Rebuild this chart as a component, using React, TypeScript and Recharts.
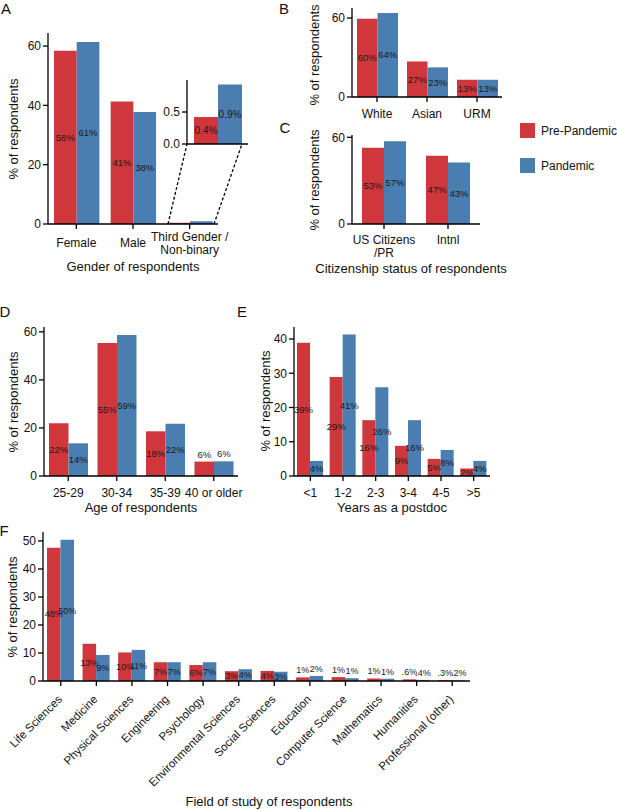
import React from "react"
import { BarChart, Bar, XAxis, YAxis, LabelList } from "recharts"

const RED = "#d0373d"
const BLUE = "#4a7db0"
const INK = "#111"
const FONT = '"Liberation Sans", Arial, Helvetica, sans-serif'

const seriesNames = ["Pre-Pandemic", "Pandemic"]

// A - gender
const genderCats = ["Female", "Male", "Third Gender /\nNon-binary"]
const genderPre = [58.4, 41.3, 0.42]
const genderPan = [61.4, 37.8, 0.93]
const genderPreText = ["58%", "41%", "0.4%"]
const genderPanText = ["61%", "38%", "0.9%"]

// B - race / ethnicity
const raceCats = ["White", "Asian", "URM"]
const racePre = [59.4, 27.0, 13.1]
const racePan = [63.8, 22.5, 13.1]
const racePreText = ["60%", "27%", "13%"]
const racePanText = ["64%", "23%", "13%"]

// C - citizenship
const citCats = ["US Citizens\n/PR", "Intnl"]
const citPre = [52.8, 47.3]
const citPan = [57.3, 42.5]
const citPreText = ["53%", "47%"]
const citPanText = ["57%", "43%"]

// D - age
const ageCats = ["25-29", "30-34", "35-39", "40 or older"]
const agePre = [22.0, 55.3, 18.6, 6.0]
const agePan = [13.6, 58.7, 21.7, 6.1]
const agePreText = ["22%", "55%", "18%", "6%"]
const agePanText = ["14%", "59%", "22%", "6%"]

// E - years as postdoc
const yearCats = ["<1", "1-2", "2-3", "3-4", "4-5", ">5"]
const yearPre = [38.9, 28.9, 16.3, 8.8, 5.0, 2.2]
const yearPan = [4.4, 41.3, 25.9, 16.3, 7.6, 4.4]
const yearPreText = ["39%", "29%", "16%", "9%", "5%", "2%"]
const yearPanText = ["4%", "41%", "26%", "16%", "8%", "4%"]

// F - field of study
const fieldCats = [
  "Life Sciences",
  "Medicine",
  "Physical Sciences",
  "Engineering",
  "Psychology",
  "Environmental Sciences",
  "Social Sciences",
  "Education",
  "Computer Science",
  "Mathematics",
  "Humanities",
  "Professional (other)",
]
const fieldPre = [47.6, 13.3, 10.2, 6.7, 5.7, 3.5, 3.6, 1.3, 1.4, 0.9, 0.6, 0.3]
const fieldPan = [50.4, 9.3, 11.1, 6.7, 6.7, 4.2, 3.3, 1.8, 1.0, 0.8, 0.4, 0.2]
const fieldPreText = ["48%", "13%", "10%", "7%", "6%", "3%", "4%", "1%", "1%", "1%", ".6%", ".3%"]
const fieldPanText = ["50%", "9%", "11%", "7%", "7%", "4%", "3%", "2%", "1%", "1%", ".4%", ".2%"]

type Row = { name: string; pre: number; pan: number; preT: string; panT: string }

const rows = (cats: string[], pre: number[], pan: number[], preT: string[], panT: string[]): Row[] =>
  cats.map((name, i) => ({ name, pre: pre[i], pan: pan[i], preT: preT[i], panT: panT[i] }))

const makeLabel = (aboveUnder: number, hideUnder: number, size: number) => (p: any) => {
  const vb = p.viewBox || {}
  const x = Number(p.x ?? vb.x)
  const y = Number(p.y ?? vb.y)
  const w = Number(p.width ?? vb.width)
  const h = Number(p.height ?? vb.height)
  if (!isFinite(h) || h < hideUnder) return null
  const above = h < aboveUnder
  return (
    <text
      x={x + w / 2}
      y={above ? y - 4 : y + h / 2 + size * 0.35}
      textAnchor="middle"
      fontSize={size}
      fill="#1a1a1a"
      fontFamily={FONT}
    >
      {p.value}
    </text>
  )
}

function StackTick(props: any) {
  const { x, y, payload, center, base, lineH } = props
  const lines = String(payload.value).split("\n")
  const start = center ? base - ((lines.length - 1) * lineH) / 2 : base
  return (
    <text x={x} y={y} textAnchor="middle" fontSize={12} fill={INK} fontFamily={FONT}>
      {lines.map((l, i) => (
        <tspan key={i} x={x} y={y + start + i * lineH}>
          {l}
        </tspan>
      ))}
    </text>
  )
}

function SlantTick(props: any) {
  const { x, y, payload } = props
  const ax = x + 2
  const ay = y + 14
  return (
    <text
      x={ax}
      y={ay}
      transform={`rotate(-45 ${ax} ${ay})`}
      textAnchor="end"
      fontSize={11.5}
      fill={INK}
      fontFamily={FONT}
    >
      {payload.value}
    </text>
  )
}

type PanelProps = {
  left: number
  top: number
  width: number
  height: number
  plotLeft: number
  plotTop: number
  plotRight: number
  baseline: number
  xAxisH: number
  data: Row[]
  yMax: number
  ticks: number[]
  barSize: number
  tick: any
  labelSize?: number
  aboveUnder?: number
  hideUnder?: number
  yFmt?: (v: number) => string
  hideXTicks?: boolean
}

function Panel(p: PanelProps) {
  const label = makeLabel(p.aboveUnder ?? 0, p.hideUnder ?? 0, p.labelSize ?? 9.5)
  const axisStyle = { stroke: "#000", strokeWidth: 1.3 }
  return (
    <div style={{ position: "absolute", left: p.left, top: p.top }}>
      <BarChart
        width={p.width}
        height={p.height}
        data={p.data}
        barGap={0}
        margin={{
          top: p.plotTop - p.top,
          right: p.left + p.width - p.plotRight,
          left: 0,
          bottom: p.top + p.height - p.baseline - p.xAxisH,
        }}
      >
        <XAxis
          dataKey="name"
          interval={0}
          height={p.xAxisH}
          tickSize={5}
          tickMargin={0}
          axisLine={axisStyle}
          tickLine={p.hideXTicks ? false : axisStyle}
          tick={p.tick}
        />
        <YAxis
          width={p.plotLeft - p.left}
          domain={[0, p.yMax]}
          ticks={p.ticks}
          interval={0}
          allowDataOverflow
          tickSize={5}
          tickMargin={2}
          axisLine={axisStyle}
          tickLine={axisStyle}
          tickFormatter={p.yFmt}
          tick={{ fontSize: 12, fill: INK, fontFamily: FONT }}
        />
        <Bar dataKey="pre" name={seriesNames[0]} fill={RED} barSize={p.barSize} isAnimationActive={false}>
          <LabelList dataKey="preT" content={label} />
        </Bar>
        <Bar dataKey="pan" name={seriesNames[1]} fill={BLUE} barSize={p.barSize} isAnimationActive={false}>
          <LabelList dataKey="panT" content={label} />
        </Bar>
      </BarChart>
    </div>
  )
}

function Note({ x, y, size = 13, rotate = false, children }: any) {
  return (
    <div
      style={{
        position: "absolute",
        left: x,
        top: y,
        transform: `translate(-50%, -50%)${rotate ? " rotate(-90deg)" : ""}`,
        fontSize: size,
        lineHeight: 1,
        whiteSpace: "nowrap",
        fontFamily: FONT,
        color: INK,
      }}
    >
      {children}
    </div>
  )
}

export default function App() {
  const single = (base: number, lineH = 13) => (t: any) => <StackTick {...t} base={base} lineH={lineH} />
  const genderRows = rows(genderCats, genderPre, genderPan, genderPreText, genderPanText)
  const insetRows = genderRows.slice(2)

  return (
    <div style={{ position: "relative", width: 617, height: 810, background: "#fff", overflow: "hidden" }}>
      <style>{"body{margin:0}"}</style>

      {/* A */}
      <Panel
        left={0} top={0} width={240} height={290}
        plotLeft={48} plotTop={33} plotRight={218} baseline={224} xAxisH={40}
        data={genderRows} yMax={64.4} ticks={[0, 20, 40, 60]} barSize={22.7}
        hideUnder={4}
        tick={(t: any) => <StackTick {...t} center base={18.3} lineH={12.5} />}
      />
      <svg width={617} height={300} style={{ position: "absolute", left: 0, top: 0 }}>
        <line x1={168} y1={224} x2={187} y2={144} stroke="#000" strokeWidth={1.3} strokeDasharray="3 2" />
        <line x1={214} y1={224} x2={242} y2={144} stroke="#000" strokeWidth={1.3} strokeDasharray="3 2" />
      </svg>
      <Panel
        left={150} top={70} width={110} height={80}
        plotLeft={187} plotTop={80} plotRight={248} baseline={144} xAxisH={1}
        data={insetRows} yMax={1} ticks={[0, 0.5]} barSize={24}
        labelSize={10} hideXTicks tick={false}
        yFmt={(v: number) => v.toFixed(1)}
      />

      {/* B */}
      <Panel
        left={300} top={0} width={210} height={125}
        plotLeft={352} plotTop={8} plotRight={502} baseline={97} xAxisH={25}
        data={rows(raceCats, racePre, racePan, racePreText, racePanText)}
        yMax={67.6} ticks={[0, 60]} barSize={20.5}
        tick={single(16.3)}
      />

      {/* C */}
      <Panel
        left={300} top={125} width={200} height={140}
        plotLeft={352} plotTop={135} plotRight={480} baseline={224} xAxisH={40}
        data={rows(citCats, citPre, citPan, citPreText, citPanText)}
        yMax={61.6} ticks={[0, 60]} barSize={22}
        tick={single(15, 12.5)}
      />

      {/* D */}
      <Panel
        left={0} top={320} width={250} height={180}
        plotLeft={44} plotTop={327} plotRight={238} baseline={476} xAxisH={24}
        data={rows(ageCats, agePre, agePan, agePreText, agePanText)}
        yMax={62} ticks={[0, 20, 40, 60]} barSize={19.5}
        aboveUnder={15}
        tick={single(16.3)}
      />

      {/* E */}
      <Panel
        left={250} top={320} width={250} height={180}
        plotLeft={294} plotTop={327} plotRight={490} baseline={476} xAxisH={24}
        data={rows(yearCats, yearPre, yearPan, yearPreText, yearPanText)}
        yMax={43.5} ticks={[0, 10, 20, 30, 40]} barSize={13}
        tick={single(16.3)}
      />

      {/* F */}
      <Panel
        left={0} top={520} width={617} height={290}
        plotLeft={43} plotTop={532} plotRight={470} baseline={681} xAxisH={120}
        data={rows(fieldCats, fieldPre, fieldPan, fieldPreText, fieldPanText)}
        yMax={53.2} ticks={[0, 10, 20, 30, 40, 50]} barSize={13.5}
        aboveUnder={6} labelSize={9}
        tick={(t: any) => <SlantTick {...t} />}
      />

      {/* titles */}
      <Note x={6} y={8} size={15}>A</Note>
      <Note x={284} y={8} size={15}>B</Note>
      <Note x={285} y={127} size={15}>C</Note>
      <Note x={5} y={311} size={15}>D</Note>
      <Note x={242} y={311} size={15}>E</Note>
      <Note x={4} y={530} size={15}>F</Note>

      <Note x={13} y={129} rotate>% of respondents</Note>
      <Note x={314} y={55} rotate>% of respondents</Note>
      <Note x={314} y={180} rotate>% of respondents</Note>
      <Note x={13} y={402} rotate>% of respondents</Note>
      <Note x={265} y={401} rotate>% of respondents</Note>
      <Note x={12} y={607} rotate>% of respondents</Note>

      <Note x={133} y={266}>Gender of respondents</Note>
      <Note x={411} y={268}>Citizenship status of respondents</Note>
      <Note x={141} y={507}>Age of respondents</Note>
      <Note x={392} y={507}>Years as a postdoc</Note>
      <Note x={269} y={801}>Field of study of respondents</Note>

      {/* legend */}
      {seriesNames.map((s, i) => (
        <div
          key={s}
          style={{ position: "absolute", left: 520, top: 123 + i * 35, display: "flex", alignItems: "center", fontFamily: FONT, fontSize: 12, color: INK, whiteSpace: "nowrap" }}
        >
          <div style={{ width: 15, height: 15, background: i === 0 ? RED : BLUE, marginRight: 6 }} />
          {s}
        </div>
      ))}
    </div>
  )
}
